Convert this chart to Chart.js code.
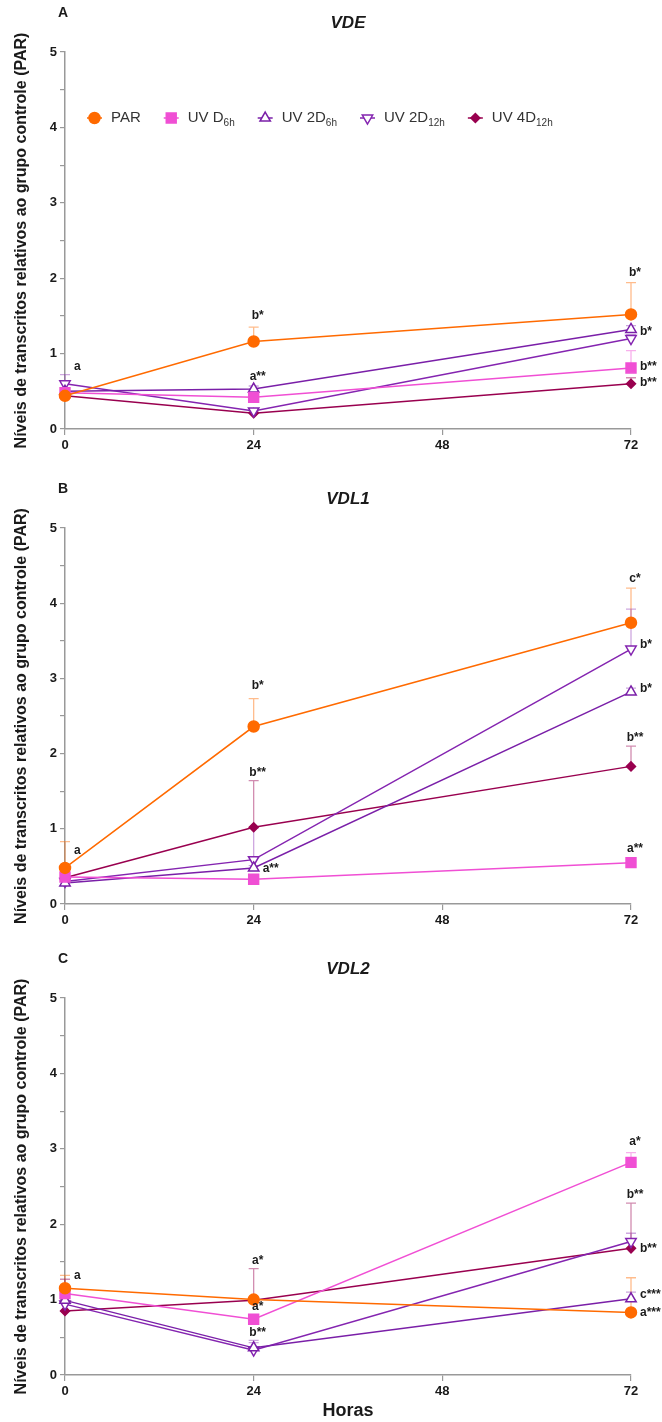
<!DOCTYPE html>
<html>
<head>
<meta charset="utf-8">
<script src="https://cdn.jsdelivr.net/npm/chart.js@4.4.1/dist/chart.umd.min.js"></script>
<style>
  body { margin: 0; background: #fff; }
  .panel { position: absolute; left: 0; width: 662px; }
</style>
</head>
<body>
<div class="panel" style="top:0"><canvas id="panelA" width="662" height="465"></canvas></div>
<div class="panel" style="top:465px"><canvas id="panelB" width="662" height="470"></canvas></div>
<div class="panel" style="top:935px"><canvas id="panelC" width="662" height="487"></canvas></div>
<script>
// tempos de coleta (horas)
const horas = [0, 24, 72];
const series = ["PAR", "UV D6h", "UV 2D6h", "UV 2D12h", "UV 4D12h"];
const legendNames = [["PAR", ""], ["UV D", "6h"], ["UV 2D", "6h"], ["UV 2D", "12h"], ["UV 4D", "12h"]];

// VDE
const vdeMedia = [
  [0.44, 1.16, 1.52],
  [0.48, 0.42, 0.81],
  [0.50, 0.53, 1.32],
  [0.60, 0.24, 1.20],
  [0.44, 0.21, 0.60],
];
const vdeErro = [
  [0.10, 0.19, 0.42],
  [0.05, 0.03, 0.23],
  [0.03, 0.04, 0.05],
  [0.12, 0.03, 0.05],
  [0.02, 0.02, 0.08],
];
const vdeLetras = [
  { h: 0, y: 0.82, t: "a", lado: "dir" },
  { h: 24, y: 1.50, t: "b*", lado: "cima" },
  { h: 24, y: 0.70, t: "a**", lado: "cima" },
  { h: 72, y: 2.07, t: "b*", lado: "cima" },
  { h: 72, y: 1.29, t: "b*", lado: "dir" },
  { h: 72, y: 0.83, t: "b**", lado: "dir" },
  { h: 72, y: 0.61, t: "b**", lado: "dir" },
];

// VDL1
const vdl1Media = [
  [0.48, 2.36, 3.74],
  [0.36, 0.33, 0.55],
  [0.28, 0.48, 2.82],
  [0.30, 0.59, 3.39],
  [0.35, 1.02, 1.83],
];
const vdl1Erro = [
  [0.35, 0.37, 0.46],
  [0.02, 0.02, 0.02],
  [0.02, 0.03, 0.05],
  [0.02, 0.42, 0.53],
  [0.02, 0.62, 0.27],
];
const vdl1Letras = [
  { h: 0, y: 0.71, t: "a", lado: "dir" },
  { h: 24, y: 2.90, t: "b*", lado: "cima" },
  { h: 24, y: 1.75, t: "b**", lado: "cima" },
  { h: 24, y: 0.47, t: "a**", lado: "dir" },
  { h: 72, y: 4.32, t: "c*", lado: "cima" },
  { h: 72, y: 3.45, t: "b*", lado: "dir" },
  { h: 72, y: 2.86, t: "b*", lado: "dir" },
  { h: 72, y: 2.21, t: "b**", lado: "cima" },
  { h: 72, y: 0.73, t: "a**", lado: "cima" },
];

// VDL2
const vdl2Media = [
  [1.15, 1.00, 0.83],
  [1.08, 0.74, 2.82],
  [0.99, 0.36, 1.01],
  [0.94, 0.33, 1.77],
  [0.85, 0.99, 1.68],
];
const vdl2Erro = [
  [0.17, 0.03, 0.46],
  [0.05, 0.03, 0.13],
  [0.03, 0.10, 0.09],
  [0.03, 0.10, 0.11],
  [0.42, 0.42, 0.60],
];
const vdl2Letras = [
  { h: 0, y: 1.32, t: "a", lado: "dir" },
  { h: 24, y: 1.52, t: "a*", lado: "cima" },
  { h: 24, y: 0.90, t: "a*", lado: "cima" },
  { h: 24, y: 0.56, t: "b**", lado: "cima" },
  { h: 72, y: 3.10, t: "a*", lado: "cima" },
  { h: 72, y: 2.39, t: "b**", lado: "cima" },
  { h: 72, y: 1.68, t: "b**", lado: "dir" },
  { h: 72, y: 1.07, t: "c***", lado: "dir" },
  { h: 72, y: 0.83, t: "a***", lado: "dir" },
];

const cores = ["#ff6a00", "#f04fd4", "#7a1fa8", "#8424b0", "#99004f"];
const coresErro = ["rgba(255,106,0,0.45)", "rgba(240,79,212,0.45)", "rgba(122,31,168,0.4)", "rgba(132,36,176,0.4)", "rgba(153,0,79,0.45)"];
const preench = ["#ff6a00", "#f04fd4", "#fff", "#fff", "#99004f"];
const marcadores = ["circle", "rect", "triangle", "triangle", "rectRot"];
const rotacao = [0, 0, 0, 180, 0];
const raios = [5.5, 7, 6, 6, 4.5];

const FONTE = "'Liberation Sans', Arial, sans-serif";
const tituloY = "Níveis de transcritos relativos ao grupo controle (PAR)";

const errorBars = {
  id: "errorBars",
  beforeDatasetsDraw(chart, args, opts) {
    const { ctx, scales: { x, y } } = chart;
    opts.erros.forEach((errs, i) => {
      const vals = opts.medias[i];
      ctx.save();
      ctx.strokeStyle = coresErro[i];
      ctx.lineWidth = 1.3;
      errs.forEach((e, j) => {
        const px = x.getPixelForValue(horas[j]);
        const y0 = y.getPixelForValue(vals[j]);
        const y1 = y.getPixelForValue(vals[j] + e);
        ctx.beginPath();
        ctx.moveTo(px, y0);
        ctx.lineTo(px, y1);
        ctx.moveTo(px - 5, y1);
        ctx.lineTo(px + 5, y1);
        ctx.stroke();
      });
      ctx.restore();
    });
  },
};

const letras = {
  id: "letras",
  afterDatasetsDraw(chart, args, opts) {
    const { ctx, scales: { x, y } } = chart;
    ctx.save();
    ctx.fillStyle = "#1a1a1a";
    ctx.font = "bold 12px " + FONTE;
    ctx.textBaseline = "middle";
    opts.lista.forEach((l) => {
      const px = x.getPixelForValue(l.h);
      const py = y.getPixelForValue(l.y);
      if (l.lado === "dir") {
        ctx.textAlign = "left";
        ctx.fillText(l.t, px + 9, py);
      } else {
        ctx.textAlign = "center";
        ctx.fillText(l.t, px + 4, py);
      }
    });
    ctx.restore();
  },
};

const cabecalho = {
  id: "cabecalho",
  afterDraw(chart, args, opts) {
    const { ctx, chartArea } = chart;
    ctx.save();
    ctx.fillStyle = "#1a1a1a";
    ctx.textBaseline = "middle";
    ctx.textAlign = "center";
    ctx.font = "bold 14px " + FONTE;
    ctx.fillText(opts.letra, 63, chartArea.top - 39);
    ctx.font = "italic bold 17px " + FONTE;
    ctx.fillText(opts.gene, (chartArea.left + chartArea.right) / 2, chartArea.top - 29);

    if (opts.legenda) {
      const ly = 118;
      let cx = 87;
      legendNames.forEach(([base, sub], i) => {
        ctx.strokeStyle = cores[i];
        ctx.lineWidth = 1.5;
        ctx.beginPath();
        ctx.moveTo(cx, ly);
        ctx.lineTo(cx + 15, ly);
        ctx.stroke();
        ctx.fillStyle = preench[i];
        Chart.helpers.drawPoint(ctx, { pointStyle: marcadores[i], rotation: rotacao[i], radius: raios[i], borderWidth: 1.5 }, cx + 7.5, ly);
        ctx.fillStyle = "#333";
        ctx.textAlign = "left";
        let tx = cx + 24;
        ctx.font = "15px " + FONTE;
        ctx.fillText(base, tx, ly);
        tx += ctx.measureText(base).width;
        if (sub) {
          ctx.font = "10px " + FONTE;
          ctx.fillText(sub, tx, ly + 5);
          tx += ctx.measureText(sub).width;
        }
        cx = tx + 23;
      });
    }
    ctx.restore();
  },
};

function painel(id, letra, gene, medias, erros, lista, cfg) {
  const datasets = medias.map((vals, i) => ({
    label: series[i],
    data: vals.map((v, j) => ({ x: horas[j], y: v })),
    borderColor: cores[i],
    backgroundColor: preench[i],
    pointBackgroundColor: preench[i],
    pointBorderColor: cores[i],
    pointStyle: marcadores[i],
    pointRotation: rotacao[i],
    pointRadius: raios[i],
    pointBorderWidth: 1.5,
    borderWidth: 1.5,
    tension: 0,
    clip: false,
  }));
  new Chart(document.getElementById(id), {
    type: "line",
    data: { datasets },
    plugins: [errorBars, letras, cabecalho],
    options: {
      responsive: false,
      animation: false,
      devicePixelRatio: 1,
      layout: { padding: { top: cfg.top, right: 31, left: 0, bottom: 0 } },
      scales: {
        x: {
          type: "linear",
          min: 0,
          max: 72,
          afterFit: (s) => { s.height = cfg.xh; },
          ticks: { stepSize: 24, color: "#1a1a1a", padding: 3, font: { family: FONTE, size: 13, weight: "bold" } },
          grid: { drawOnChartArea: false, tickLength: 6, color: "#999", lineWidth: 1.2 },
          border: { color: "#999", width: 1.5 },
          title: {
            display: !!cfg.horas,
            text: "Horas",
            color: "#1a1a1a",
            padding: { top: 0, bottom: 0 },
            font: { family: FONTE, size: 18, weight: "bold" },
          },
        },
        y: {
          min: 0,
          max: 5,
          afterFit: (s) => { s.width = 65; },
          ticks: {
            stepSize: 0.5,
            autoSkip: false,
            color: "#1a1a1a",
            padding: 3,
            font: { family: FONTE, size: 13, weight: "bold" },
            callback: (v) => (Number.isInteger(v) ? v : ""),
          },
          grid: { drawOnChartArea: false, tickLength: 5, color: "#999", lineWidth: 1.2 },
          border: { color: "#999", width: 1.5 },
          title: {
            display: true,
            text: tituloY,
            color: "#1a1a1a",
            padding: { top: 12, bottom: 0 },
            font: { family: FONTE, size: 16, weight: "bold" },
          },
        },
      },
      plugins: {
        legend: { display: false },
        tooltip: { enabled: false },
        errorBars: { medias, erros },
        letras: { lista },
        cabecalho: { letra, gene, legenda: !!cfg.legenda },
      },
    },
  });
}

painel("panelA", "A", "VDE", vdeMedia, vdeErro, vdeLetras, { top: 52, xh: 36, legenda: true });
painel("panelB", "B", "VDL1", vdl1Media, vdl1Erro, vdl1Letras, { top: 63, xh: 31 });
painel("panelC", "C", "VDL2", vdl2Media, vdl2Erro, vdl2Letras, { top: 63, xh: 47, horas: true });
</script>
</body>
</html>
